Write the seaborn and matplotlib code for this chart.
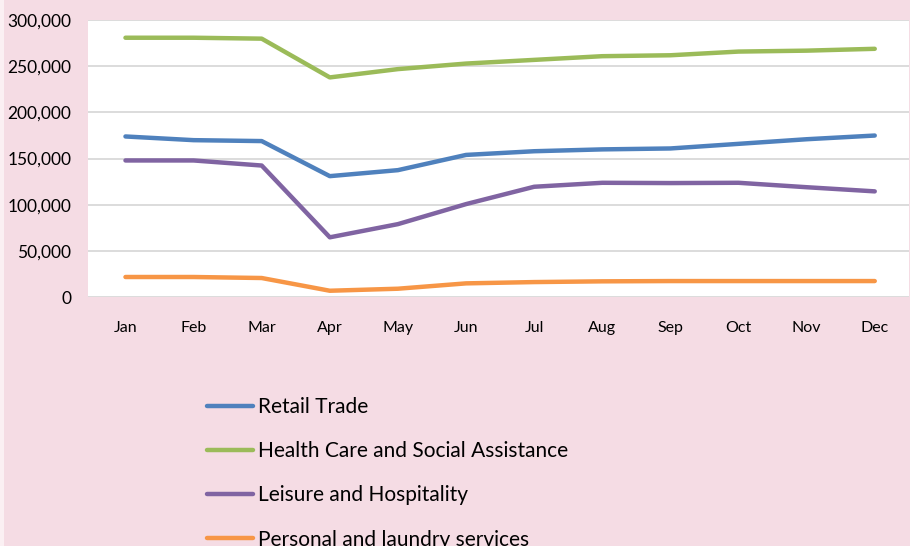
import pandas as pd
import matplotlib.pyplot as plt
import matplotlib.ticker as mticker
import seaborn as sns

months = ['Jan', 'Feb', 'Mar', 'Apr', 'May', 'Jun', 'Jul', 'Aug', 'Sep', 'Oct', 'Nov', 'Dec']
retail = [174000, 170000, 169000, 131000, 137500, 154000, 158000, 160000, 161000, 166000, 171000, 175000]
health = [281000, 281000, 280000, 238000, 247000, 253000, 257000, 261000, 262000, 266000, 267000, 269000]
leisure = [148000, 148000, 142500, 64700, 79000, 100700, 119500, 123800, 123500, 123800, 119000, 114500]
personal = [21700, 21700, 20600, 6800, 9000, 14800, 16200, 17000, 17300, 17300, 17300, 17300]
series_names = ['Retail Trade', 'Health Care and Social Assistance',
                'Leisure and Hospitality', 'Personal and laundry services']
colors = ['#4F81BD', '#9BBB59', '#8064A2', '#F79646']

df = pd.DataFrame({
    'month': months * 4,
    'value': retail + health + leisure + personal,
    'series': [s for s in series_names for _ in months],
})

sns.set_style('white')
plt.rcParams['font.family'] = ['Lato', 'DejaVu Sans']
plt.rcParams['text.color'] = 'black'

fig = plt.figure(figsize=(9.1, 5.46), dpi=100)
fig.patch.set_facecolor('#F5DCE4')
# thin light strip on the left edge
fig.patches.append(plt.Rectangle((0, 0), 4 / 910, 1, transform=fig.transFigure,
                                 facecolor='#FBF0F3', edgecolor='none', zorder=0))
ax = fig.add_axes([0.0967, 0.456, 0.902, 0.507])
ax.set_facecolor('white')

sns.lineplot(data=df, x='month', y='value', hue='series', palette=colors,
             linewidth=3.2, sort=False, ax=ax, legend=False)

ax.set_ylim(0, 300000)
ax.set_xlim(-0.55, 11.5)
ax.yaxis.set_major_locator(mticker.MultipleLocator(50000))
ax.yaxis.set_major_formatter(mticker.FuncFormatter(lambda v, p: f'{int(v):,}'))
ax.grid(axis='y', color='#D9D9D9', linewidth=1.3)
ax.set_axisbelow(True)
for s in ax.spines.values():
    s.set_visible(False)
ax.tick_params(axis='y', length=0, pad=12, labelsize=12.5, labelcolor='black')
ax.tick_params(axis='x', length=0, pad=17, labelsize=11.5, labelcolor='black')
ax.set_xlabel('')
ax.set_ylabel('')

handles = [plt.Line2D([], [], color=c, linewidth=3.2, solid_capstyle='round') for c in colors]
fig.legend(handles, series_names, loc='upper left', bbox_to_anchor=(207 / 910, 1 - 397 / 546),
           frameon=False, fontsize=15, handlelength=2.2, handletextpad=0.25,
           labelspacing=1.16, borderpad=0, borderaxespad=0, labelcolor='black')

fig.savefig('out.png', dpi=100, facecolor=fig.get_facecolor())
